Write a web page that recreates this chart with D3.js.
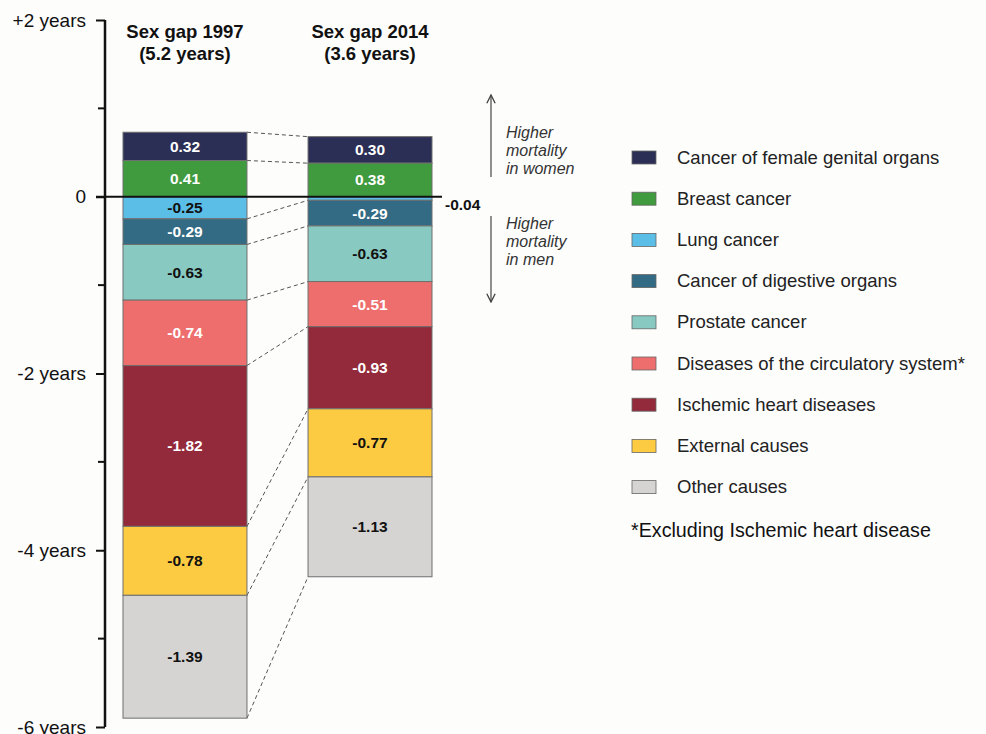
<!DOCTYPE html>
<html><head><meta charset="utf-8">
<script src="https://cdn.jsdelivr.net/npm/d3@7/dist/d3.min.js"></script>
<style>
html,body{margin:0;padding:0;background:#fdfdfc;}
svg{display:block;font-family:Arial,"Liberation Sans",sans-serif;}
</style></head>
<body>
<svg id="chart" width="986" height="734"></svg>
<script>
const causes = ["Cancer of female genital organs","Breast cancer","Lung cancer","Cancer of digestive organs","Prostate cancer","Diseases of the circulatory system*","Ischemic heart diseases","External causes","Other causes"];
const colors = ["#2b2f55","#3f9b3d","#5bbee6","#336b84","#88c9c1","#ee6e6e","#932a3b","#fdcb42","#d6d4d2"];
const labelColors = ["#fff","#fff","#111","#fff","#111","#fff","#fff","#111","#111"];
const years = ["1997","2014"];
const titles = ["Sex gap 1997","Sex gap 2014"];
const subtitles = ["(5.2 years)","(3.6 years)"];
const values1997 = [0.32,0.41,-0.25,-0.29,-0.63,-0.74,-1.82,-0.78,-1.39];
const values2014 = [0.30,0.38,-0.04,-0.29,-0.63,-0.51,-0.93,-0.77,-1.13];
const tickValues = [2,0,-2,-4,-6];
const tickLabels = ["+2 years","0","-2 years","-4 years","-6 years"];
const minorTicks = [1,-1,-3,-5];
const footnote = "*Excluding Ischemic heart disease";

const svg = d3.select("#chart");
const y = d3.scaleLinear().domain([-6,2]).range([727,20]);
const x = d3.scaleBand().domain(years).range([123,432]).paddingInner(0.33).paddingOuter(0);

function stack(vals){
  const segs = vals.map(()=>({}));
  let pos = 0;
  [1,0].forEach(i=>{ segs[i].y0 = pos; pos += vals[i]; segs[i].y1 = pos; });
  let neg = 0;
  for(let i=2;i<vals.length;i++){ segs[i].y0 = neg; neg += vals[i]; segs[i].y1 = neg; }
  return segs.map((s,i)=>({...s, v: vals[i], i}));
}
const stacks = [stack(values1997), stack(values2014)];

// dashed connectors
const b1 = stacks[0], b2 = stacks[1];
const conns = [[b1[0].y1,b2[0].y1],[b1[1].y1,b2[1].y1]];
for(let i=2;i<9;i++) conns.push([b1[i].y1,b2[i].y1]);
svg.append("g").selectAll("line").data(conns).join("line")
  .attr("x1", x("1997")+x.bandwidth()).attr("x2", x("2014"))
  .attr("y1", d=>y(d[0])).attr("y2", d=>y(d[1]))
  .attr("stroke","#555").attr("stroke-width",1).attr("stroke-dasharray","4,3");

// bars
years.forEach((yr,k)=>{
  const g = svg.append("g");
  g.selectAll("rect").data(stacks[k]).join("rect")
    .attr("x", x(yr)).attr("width", x.bandwidth())
    .attr("y", d=>y(Math.max(d.y0,d.y1)))
    .attr("height", d=>Math.abs(y(d.y0)-y(d.y1)))
    .attr("fill", d=>colors[d.i])
    .attr("stroke","#6f6f6f").attr("stroke-width",1);
  g.selectAll("text").data(stacks[k]).join("text")
    .attr("x", d=> Math.abs(d.v) < 0.1 ? x(yr)+x.bandwidth()+13 : x(yr)+x.bandwidth()/2)
    .attr("y", d=> Math.abs(d.v) < 0.1 ? y(d.y1)+10 : y((d.y0+d.y1)/2)+5.5)
    .attr("text-anchor", d=> Math.abs(d.v) < 0.1 ? "start" : "middle")
    .attr("font-size", 15.5).attr("font-weight","bold")
    .attr("fill", d=> Math.abs(d.v) < 0.1 ? "#111" : labelColors[d.i])
    .text(d=>d.v.toFixed(2));
  svg.append("text").attr("x", x(yr)+x.bandwidth()/2).attr("y",38)
    .attr("text-anchor","middle").attr("font-size",18.5).attr("font-weight","bold").attr("fill","#111")
    .text(titles[k]);
  svg.append("text").attr("x", x(yr)+x.bandwidth()/2).attr("y",60)
    .attr("text-anchor","middle").attr("font-size",18.5).attr("font-weight","bold").attr("fill","#111")
    .text(subtitles[k]);
});

// zero line
svg.append("line").attr("x1",96).attr("x2",442).attr("y1",y(0)).attr("y2",y(0))
  .attr("stroke","#111").attr("stroke-width",2);

// y axis
const axis = d3.axisLeft(y).tickValues(tickValues).tickSize(9).tickFormat((d,i)=>tickLabels[i]);
const ag = svg.append("g").attr("transform","translate(105,0)").call(axis);
ag.select(".domain").attr("stroke","#111").attr("stroke-width",2.5).attr("d","M0,"+y(2)+"V"+y(-6));
ag.selectAll(".tick line").attr("stroke","#111").attr("stroke-width",2);
ag.selectAll(".tick text").attr("font-size",19).attr("fill","#111").attr("x",-19).attr("font-family","Arial, 'Liberation Sans', sans-serif");
svg.append("g").selectAll("line").data(minorTicks).join("line")
  .attr("x1",98).attr("x2",105).attr("y1",d=>y(d)).attr("y2",d=>y(d))
  .attr("stroke","#111").attr("stroke-width",2);

// arrows
const defs = svg.append("defs");
defs.append("marker").attr("id","arr").attr("viewBox","0 0 10 10").attr("refX",9).attr("refY",5)
  .attr("markerWidth",8).attr("markerHeight",8).attr("orient","auto-start-reverse")
  .append("path").attr("d","M1,1 L9,5 L1,9").attr("fill","none").attr("stroke","#444").attr("stroke-width",1.3);
svg.append("line").attr("x1",491).attr("x2",491).attr("y1",177).attr("y2",95)
  .attr("stroke","#555").attr("stroke-width",1.3).attr("marker-end","url(#arr)");
svg.append("line").attr("x1",491).attr("x2",491).attr("y1",216).attr("y2",302)
  .attr("stroke","#555").attr("stroke-width",1.3).attr("marker-end","url(#arr)");
const notes = [[["Higher","mortality","in women"],138],[["Higher","mortality","in men"],229]];
notes.forEach(([lines,y0])=>{
  lines.forEach((t,i)=>svg.append("text").attr("x",506).attr("y",y0+i*18)
    .attr("font-size",16).attr("font-style","italic").attr("fill","#333").text(t));
});

// legend
const lg = svg.append("g");
causes.forEach((c,i)=>{
  const cy = 157 + i*41.2;
  lg.append("rect").attr("x",632).attr("y",cy-6).attr("width",24).attr("height",13)
    .attr("fill",colors[i]).attr("stroke","#666").attr("stroke-width",0.8);
  lg.append("text").attr("x",677).attr("y",cy+6.5).attr("font-size",18.5).attr("fill","#222").text(c);
});
svg.append("text").attr("x",631).attr("y",537).attr("font-size",19.7).attr("fill","#111").text(footnote);
</script>
</body></html>
